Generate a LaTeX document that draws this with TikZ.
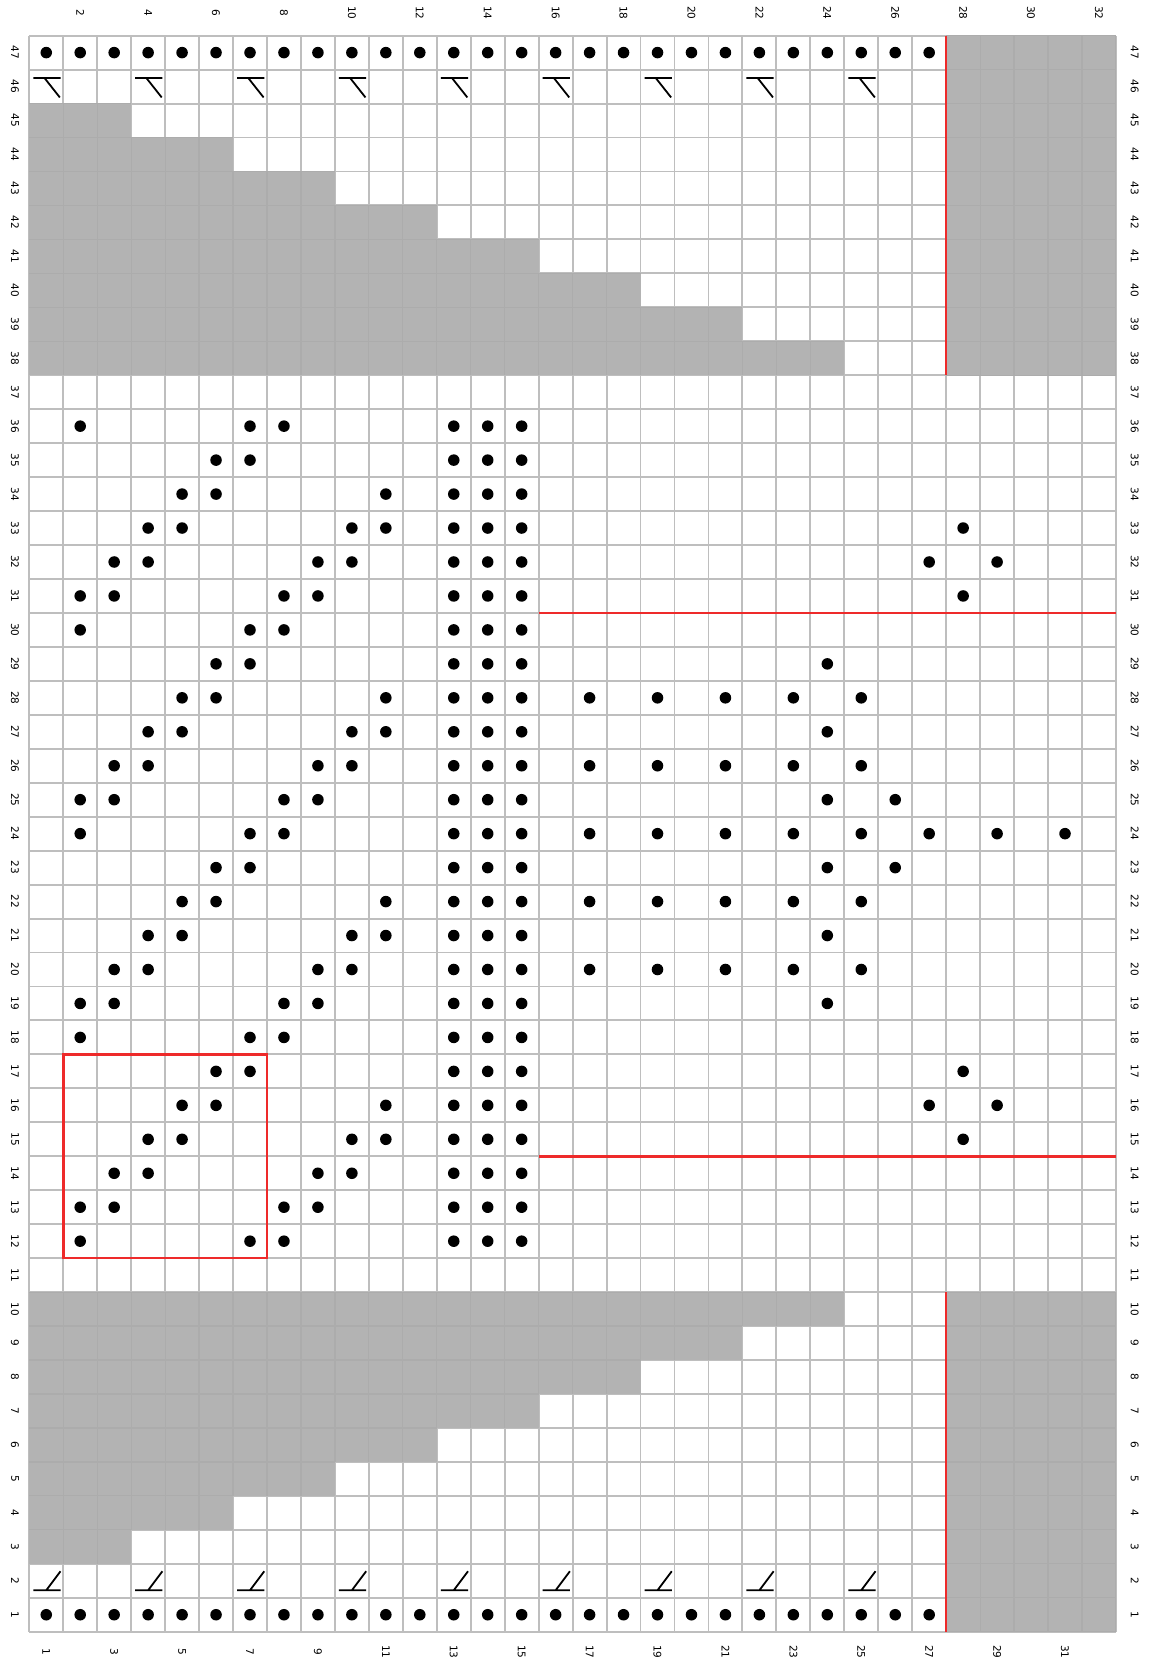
\documentclass[tikz,border=0pt]{standalone}
\usepackage{fontspec}
\setmainfont{DejaVu Sans}
\definecolor{chart-grid}{HTML}{BEBEBE}
\definecolor{chart-shade}{HTML}{B3B3B3}
\definecolor{chart-red}{HTML}{EE2A2A}

\begin{document}
\begin{tikzpicture}[
    x=0.5cm, y=0.5cm,
    purl/.style={circle, fill=black, inner sep=0pt, minimum size=0.17cm},
    noshade/.style={fill=chart-shade},
    gridline/.style={draw=chart-grid, line width=0.8pt},
    shadegrid/.style={draw=chart-shade!96!black, line width=0.5pt},
    redline/.style={draw=chart-red, line width=1.1pt},
    stitch/.style={draw=black, line width=0.75pt},
    numlab/.style={font=\fontsize{4.4}{5}\selectfont, text=black, rotate=-90, inner sep=0pt}
]
    % Page frame
    \fill[white] (-0.862,-0.774) rectangle (33.0,48.05);
    \useasboundingbox (-0.862,-0.774) rectangle (33.0,48.05);

    % Chart grid
    \draw[gridline, step=1] (0,0) grid (32,47);

    % No-stitch areas (staircase + right block)
    \foreach \k in {1,...,8} {
        \fill[noshade] (0,45-\k) rectangle (3*\k,46-\k);
        \fill[noshade] (0,1+\k) rectangle (3*\k,2+\k);
    }
    \fill[noshade] (27,37) rectangle (32,47);
    \fill[noshade] (27,0) rectangle (32,10);
    \begin{scope}
        \clip (27,37) rectangle (32,47);
        \draw[shadegrid, step=1] (27,37) grid (32,47);
    \end{scope}
    \begin{scope}
        \clip (27,0) rectangle (32,10);
        \draw[shadegrid, step=1] (27,0) grid (32,10);
    \end{scope}
    \foreach \k in {1,...,8} {
        \draw[shadegrid, step=1] (0.001,45-\k+0.001) grid (3*\k-0.001,46-\k-0.001);
        \draw[shadegrid, step=1] (0.001,1+\k+0.001) grid (3*\k-0.001,2+\k-0.001);
    }

    % Repeat markers
    \draw[redline] (27,37) -- (27,47);
    \draw[redline] (27,0) -- (27,10);
    \draw[redline] (15,30) -- (32,30);
    \draw[redline] (15,14) -- (32,14);
    \draw[redline] (1,11) rectangle (7,17);

    % Cast-on / bind-off symbols
    \foreach \c in {1,4,...,25} {
        \draw[stitch] (\c-0.88,45.75) -- (\c-0.08,45.75) (\c-0.55,45.75) -- (\c-0.1,45.18);
        \draw[stitch] (\c-0.88,1.22) -- (\c-0.08,1.22) (\c-0.5,1.22) -- (\c-0.08,1.78);
    }

    % Purl rows top and bottom
    \foreach \c in {1,...,27} {
        \node (p\c-1) [purl] at (\c-0.5,0.5) {};
        \node (p\c-47) [purl] at (\c-0.5,46.5) {};
    }

    % Purl rib (cols 13-15)
    \foreach \c in {13,14,15} {
        \foreach \r in {12,...,36} {
            \node (p\c-\r) [purl] at (\c-0.5,\r-0.5) {};
        }
    }

    % Diagonal lattice (cols 2-11)
    \foreach \b in {0,6,12,18,24} {
        \foreach \dr/\cols in {0/{2,7,8},1/{6,7},2/{5,6,11},3/{4,5,10,11},4/{3,4,9,10},5/{2,3,8,9}} {
            \pgfmathtruncatemacro\r{36-\b-\dr}
            \ifnum\r>11
                \foreach \c in \cols {
                    \node (p\c-\r) [purl] at (\c-0.5,\r-0.5) {};
                }
            \fi
        }
    }

    % Seed panel (cols 17-31)
    \foreach \r in {19,21,...,29} {
        \node (p24-\r) [purl] at (23.5,\r-0.5) {};
    }
    \foreach \r in {20,22,...,28} {
        \foreach \c in {17,19,...,25} {
            \node (p\c-\r) [purl] at (\c-0.5,\r-0.5) {};
        }
    }
    \foreach \r in {23,25} {
        \node (p26-\r) [purl] at (25.5,\r-0.5) {};
    }
    \foreach \c in {27,29,31} {
        \node (p\c-24) [purl] at (\c-0.5,23.5) {};
    }

    % Small diamonds (col 28)
    \foreach \t in {0,16} {
        \pgfmathtruncatemacro\ra{15+\t}
        \pgfmathtruncatemacro\rb{16+\t}
        \pgfmathtruncatemacro\rc{17+\t}
        \node (p28-\ra) [purl] at (27.5,\ra-0.5) {};
        \node (p27-\rb) [purl] at (26.5,\rb-0.5) {};
        \node (p29-\rb) [purl] at (28.5,\rb-0.5) {};
        \node (p28-\rc) [purl] at (27.5,\rc-0.5) {};
    }

    % Row numbers
    \foreach \r in {1,...,47} {
        \node (rl\r) [numlab] at (-0.42,\r-0.5) {\r};
        \node (rr\r) [numlab] at (32.55,\r-0.5) {\r};
    }

    % Column numbers
    \foreach \c in {2,4,...,32} {
        \node (ct\c) [numlab] at (\c-0.5,47.67) {\c};
    }
    \foreach \c in {1,3,...,31} {
        \node (cb\c) [numlab] at (\c-0.5,-0.59) {\c};
    }
\end{tikzpicture}
\end{document}
